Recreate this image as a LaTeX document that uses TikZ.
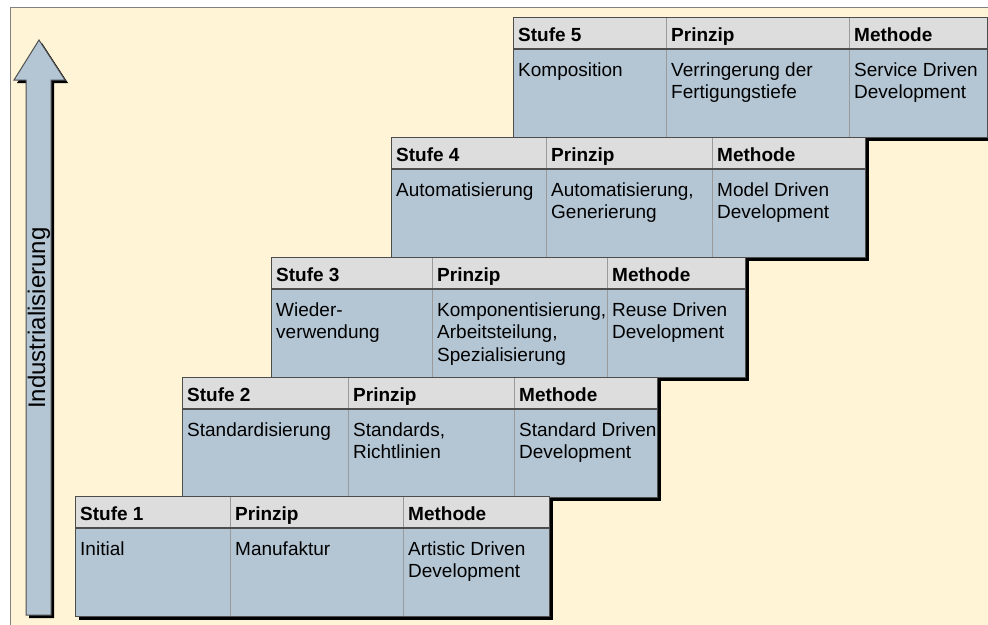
\documentclass[tikz,border=0pt]{standalone}
\usepackage{fontspec}
\setmainfont{Liberation Sans}
\definecolor{cream}{HTML}{FFF5D6}
\definecolor{bodyblue}{HTML}{B4C6D4}
\definecolor{headgray}{HTML}{DDDDDD}
\definecolor{edgegray}{HTML}{4D4D4D}
\definecolor{divgray}{HTML}{9A9A9A}
\definecolor{framegray}{HTML}{808080}

% One step of the staircase: id, left, top, first divider, second divider, right,
% then the three body texts.
\newcommand\stufe[9]{%
  \fill[black] ({#2+4},{#3+4}) rectangle ({#6+4},{#3+124});
  \fill[bodyblue] (#2,#3) rectangle (#6,{#3+120});
  \fill[headgray] (#2,#3) rectangle (#6,{#3+32});
  \draw[divline] (#4,#3) -- (#4,{#3+120});
  \draw[divline] (#5,#3) -- (#5,{#3+120});
  \draw[headline] (#2,{#3+32}) -- (#6,{#3+32});
  \draw[boxedge] (#2,#3) rectangle (#6,{#3+120});
  \node[headtxt] (s#1a) at ({#2+5},{#3+24}) {Stufe #1};
  \node[headtxt] (s#1b) at ({#4+5},{#3+24}) {Prinzip};
  \node[headtxt] (s#1c) at ({#5+5},{#3+24}) {Methode};
  \node[bodytxt] (s#1d) at ({#2+5},{#3+43}) {\strut #7};
  \node[bodytxt] (s#1e) at ({#4+5},{#3+43}) {\strut #8};
  \node[bodytxt] (s#1f) at ({#5+5},{#3+43}) {\strut #9};
}

\begin{document}
\begin{tikzpicture}[x=1pt,y=-1pt,
  divline/.style={draw=divgray,line width=1pt},
  headline/.style={draw=edgegray,line width=1.3pt},
  boxedge/.style={draw=edgegray,line width=1pt},
  headtxt/.style={anchor=base west,inner sep=0pt,font=\fontsize{19}{22.8}\selectfont\bfseries},
  bodytxt/.style={anchor=north west,inner sep=0pt,align=left,font=\fontsize{19}{22.8}\selectfont}]
\clip (0,0) rectangle (988,624);

% backdrop
\fill[cream] (10,7) rectangle (995,630);
\draw[framegray,line width=1pt] (10,630) -- (10,7) -- (995,7);

% upward arrow with its shadow
\fill[black] (29,618) -- (29,83) -- (17,83) -- (42,43) -- (68,83) -- (54,83) -- (54,618) -- cycle;
\draw[boxedge,fill=bodyblue] (26,615) -- (26,80) -- (14,80) -- (39,40) -- (65,80) -- (51,80) -- (51,615) -- cycle;
\node[rotate=90,inner sep=0pt,font=\fontsize{24}{28}\selectfont] (ind) at (39,318) {Industrialisierung};

% steps, from the top down so that each lower step covers the one above
\stufe{5}{513}{17}{666}{849}{987}{Komposition}{Verringerung der\\Fertigungstiefe}{Service Driven\\Development}
\stufe{4}{391}{137}{546}{712}{865}{Automatisierung}{Automatisierung,\\Generierung}{Model Driven\\Development}
\stufe{3}{271}{257}{432}{607}{745}{Wieder-\\verwendung}{Komponentisierung,\\Arbeitsteilung,\\Spezialisierung}{Reuse Driven\\Development}
\stufe{2}{182}{377}{348}{514}{657}{Standardisierung}{Standards,\\Richtlinien}{Standard Driven\\Development}
\stufe{1}{75}{496}{230}{403}{549}{Initial}{Manufaktur}{Artistic Driven\\Development}
\end{tikzpicture}
\end{document}
